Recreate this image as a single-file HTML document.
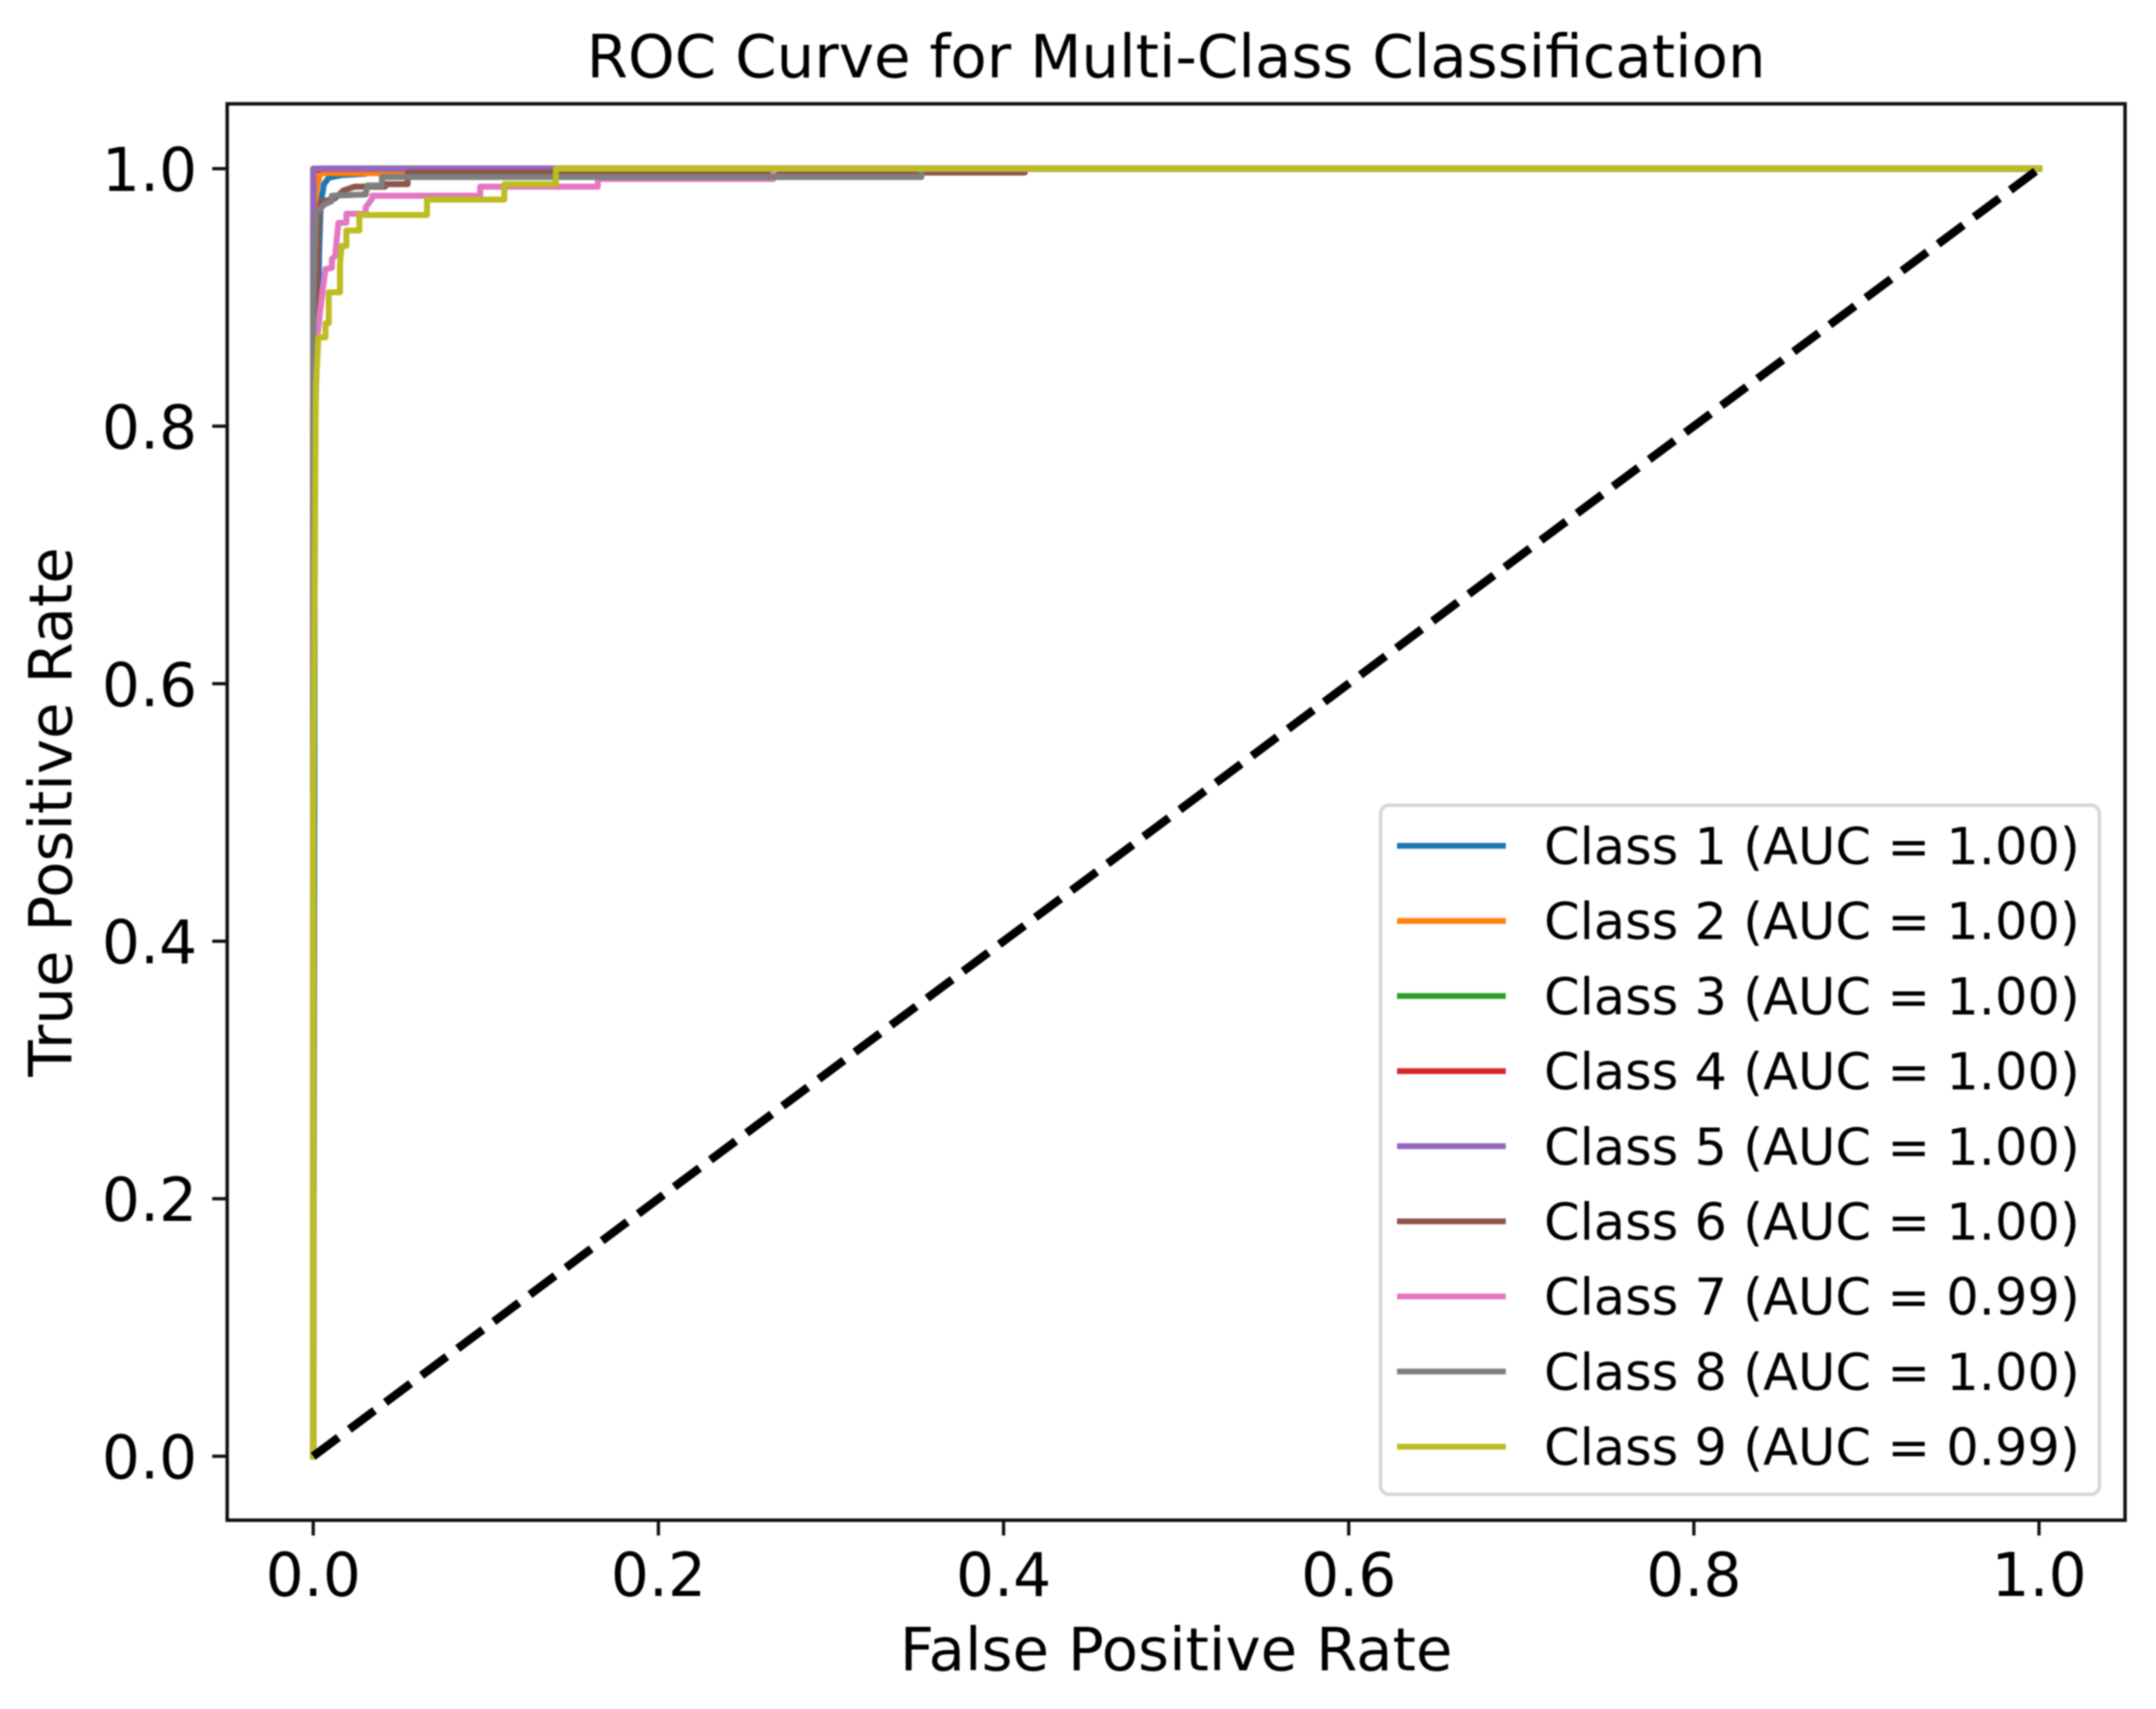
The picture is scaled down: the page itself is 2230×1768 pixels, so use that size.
<!DOCTYPE html>
<html lang="en">
<head>
<meta charset="utf-8">
<title>ROC Curve for Multi-Class Classification</title>
<style>
html,body{margin:0;padding:0;background:#fff;}
body{width:2230px;height:1768px;overflow:hidden;}
svg{display:block;filter:blur(0.7px);}
text{font-family:"DejaVu Sans","Liberation Sans",sans-serif;fill:#000;}
</style>
</head>
<body>
<svg id="chart" xmlns="http://www.w3.org/2000/svg" width="2230" height="1768" viewBox="0 0 2230 1768">
  <rect x="0" y="0" width="2230" height="1768" fill="#fff"/>
  <g id="series-layer"></g>
  <g id="tick-layer"></g>
  <rect x="235" y="107.4" width="1963" height="1465.3" fill="none" stroke="#111" stroke-width="3.6"/>
  <text x="1216.5" y="80" text-anchor="middle" font-size="61.5">ROC Curve for Multi-Class Classification</text>
  <text x="1216.5" y="1728" text-anchor="middle" font-size="61.5">False Positive Rate</text>
  <text transform="translate(74,840) rotate(-90)" text-anchor="middle" font-size="61.5">True Positive Rate</text>
  <rect x="1428" y="833" width="743.5" height="713" rx="9" ry="9" fill="#fff" stroke="#d6d6d6" stroke-width="3.6"/>
  <g id="legend-layer"></g>
</svg>
<script>
// Axis tick values and labels
const xTicks = [0, 0.2, 0.4, 0.6, 0.8, 1];
const yTicks = [0, 0.2, 0.4, 0.6, 0.8, 1];
const xTickLabels = ['0.0', '0.2', '0.4', '0.6', '0.8', '1.0'];
const yTickLabels = ['0.0', '0.2', '0.4', '0.6', '0.8', '1.0'];

// Series names and colours
const classNames = ['Class 1', 'Class 2', 'Class 3', 'Class 4', 'Class 5', 'Class 6', 'Class 7', 'Class 8', 'Class 9'];
const aucValues = ['1.00', '1.00', '1.00', '1.00', '1.00', '1.00', '0.99', '1.00', '0.99'];
const classColors = ['#1f77b4', '#ff7f0e', '#2ca02c', '#d62728', '#9467bd', '#8c564b', '#e377c2', '#7f7f7f', '#bcbd22'];

// ROC curves
const class1Fpr = [0, 0.001, 0.003, 0.0034, 0.0043, 0.0062, 0.009, 0.0163, 0.03, 0.03, 1];
const class1Tpr = [0, 0.8, 0.9, 0.935, 0.973, 0.988, 0.993, 0.995, 0.996, 1, 1];
const class2Fpr = [0, 0, 0.002, 0.004, 0.0545, 0.0545, 1];
const class2Tpr = [0, 0.96, 0.985, 0.9965, 0.9965, 1, 1];
const class3Fpr = [0, 0, 1];
const class3Tpr = [0, 1, 1];
const class4Fpr = [0, 0, 0.005, 1];
const class4Tpr = [0, 0.998, 1, 1];
const class5Fpr = [0, 0, 1];
const class5Tpr = [0, 1, 1];
const class6Fpr = [0, 0, 0.003, 0.0043, 0.0127, 0.0174, 0.0239, 0.0416, 0.0416, 0.0547, 0.0547, 0.4123, 0.4123, 1];
const class6Tpr = [0, 0.8, 0.96, 0.974, 0.977, 0.983, 0.986, 0.986, 0.988, 0.988, 0.997, 0.997, 1, 1];
const class7Fpr = [0, 0, 0.0024, 0.0043, 0.0062, 0.0071, 0.0108, 0.0108, 0.0127, 0.0136, 0.0146, 0.0192, 0.0192, 0.0304, 0.0304, 0.0342, 0.0342, 0.0967, 0.0967, 0.1649, 0.1649, 0.2667, 0.2667, 1];
const class7Tpr = [0, 0.8, 0.87, 0.893, 0.913, 0.922, 0.923, 0.93, 0.932, 0.945, 0.958, 0.958, 0.965, 0.965, 0.97, 0.977, 0.979, 0.979, 0.986, 0.986, 0.992, 0.992, 1, 1];
const class8Fpr = [0, 0, 0.0015, 0.0062, 0.0108, 0.0108, 0.0304, 0.0314, 0.0398, 0.0398, 0.3524, 0.3524, 1];
const class8Tpr = [0, 0.9, 0.965, 0.972, 0.975, 0.979, 0.98, 0.987, 0.987, 0.9935, 0.9935, 1, 1];
const class9Fpr = [0, 0, 0.0015, 0.003, 0.0071, 0.0071, 0.009, 0.009, 0.0155, 0.0155, 0.0164, 0.0192, 0.0192, 0.0267, 0.0267, 0.0659, 0.0659, 0.1107, 0.1107, 0.1406, 0.1406, 1];
const class9Tpr = [0, 0.5, 0.83, 0.869, 0.869, 0.88, 0.88, 0.904, 0.904, 0.925, 0.94, 0.94, 0.952, 0.952, 0.964, 0.964, 0.976, 0.976, 0.988, 0.988, 1, 1];
const chanceFpr = [0, 1];
const chanceTpr = [0, 1];

const fprSeries = [class1Fpr, class2Fpr, class3Fpr, class4Fpr, class5Fpr, class6Fpr, class7Fpr, class8Fpr, class9Fpr];
const tprSeries = [class1Tpr, class2Tpr, class3Tpr, class4Tpr, class5Tpr, class6Tpr, class7Tpr, class8Tpr, class9Tpr];

const NS = 'http://www.w3.org/2000/svg';
const scaleX = function (v) { return 324 + v * 1785; };
const scaleY = function (v) { return 1506.5 - v * 1332; };

function pathFor(xs, ys) {
  return xs.map(function (x, i) {
    return (i ? 'L' : 'M') + scaleX(x).toFixed(2) + ' ' + scaleY(ys[i]).toFixed(2);
  }).join(' ');
}

const seriesLayer = document.getElementById('series-layer');
const tickLayer = document.getElementById('tick-layer');
const legendLayer = document.getElementById('legend-layer');

fprSeries.forEach(function (xs, i) {
  const p = document.createElementNS(NS, 'path');
  
  
  p.setAttribute('d', pathFor(xs, tprSeries[i]));
  p.setAttribute('fill', 'none');
  p.setAttribute('stroke', classColors[i]);
  p.setAttribute('stroke-width', '6.2');
  p.setAttribute('stroke-linejoin', 'round');
  p.setAttribute('stroke-linecap', 'square');
  seriesLayer.appendChild(p);
});

const chanceLine = document.createElementNS(NS, 'path');


chanceLine.setAttribute('d', pathFor(chanceFpr, chanceTpr));
chanceLine.setAttribute('fill', 'none');
chanceLine.setAttribute('stroke', '#000');
chanceLine.setAttribute('stroke-width', '8.6');
chanceLine.setAttribute('stroke-dasharray', '32.5 14.1');
seriesLayer.appendChild(chanceLine);

xTicks.forEach(function (v, i) {
  const px = scaleX(v);
  const t = document.createElementNS(NS, 'line');
  
  
  t.setAttribute('x1', px);
  t.setAttribute('x2', px);
  t.setAttribute('y1', 1572.7);
  t.setAttribute('y2', 1588.5);
  t.setAttribute('stroke', '#111');
  t.setAttribute('stroke-width', '3.4');
  tickLayer.appendChild(t);
  const l = document.createElementNS(NS, 'text');
  
  
  l.setAttribute('x', px);
  l.setAttribute('y', 1651);
  l.setAttribute('text-anchor', 'middle');
  l.setAttribute('font-size', '62');
  l.textContent = xTickLabels[i];
  tickLayer.appendChild(l);
});

yTicks.forEach(function (v, i) {
  const py = scaleY(v);
  const t = document.createElementNS(NS, 'line');
  
  
  t.setAttribute('x1', 219.5);
  t.setAttribute('x2', 235);
  t.setAttribute('y1', py);
  t.setAttribute('y2', py);
  t.setAttribute('stroke', '#111');
  t.setAttribute('stroke-width', '3.4');
  tickLayer.appendChild(t);
  const l = document.createElementNS(NS, 'text');
  
  
  l.setAttribute('x', 204);
  l.setAttribute('y', py + 23);
  l.setAttribute('text-anchor', 'end');
  l.setAttribute('font-size', '62');
  l.textContent = yTickLabels[i];
  tickLayer.appendChild(l);
});

classNames.forEach(function (name, i) {
  const y = 875 + i * 77.7;
  const s = document.createElementNS(NS, 'line');
  
  
  s.setAttribute('x1', 1445);
  s.setAttribute('x2', 1557.5);
  s.setAttribute('y1', y);
  s.setAttribute('y2', y);
  s.setAttribute('stroke', classColors[i]);
  s.setAttribute('stroke-width', '6');
  legendLayer.appendChild(s);
  const l = document.createElementNS(NS, 'text');
  
  
  l.setAttribute('x', 1597);
  l.setAttribute('y', y + 19);
  l.setAttribute('font-size', '52.8');
  l.textContent = name + ' (AUC = ' + aucValues[i] + ')';
  legendLayer.appendChild(l);
});
</script>
</body>
</html>
